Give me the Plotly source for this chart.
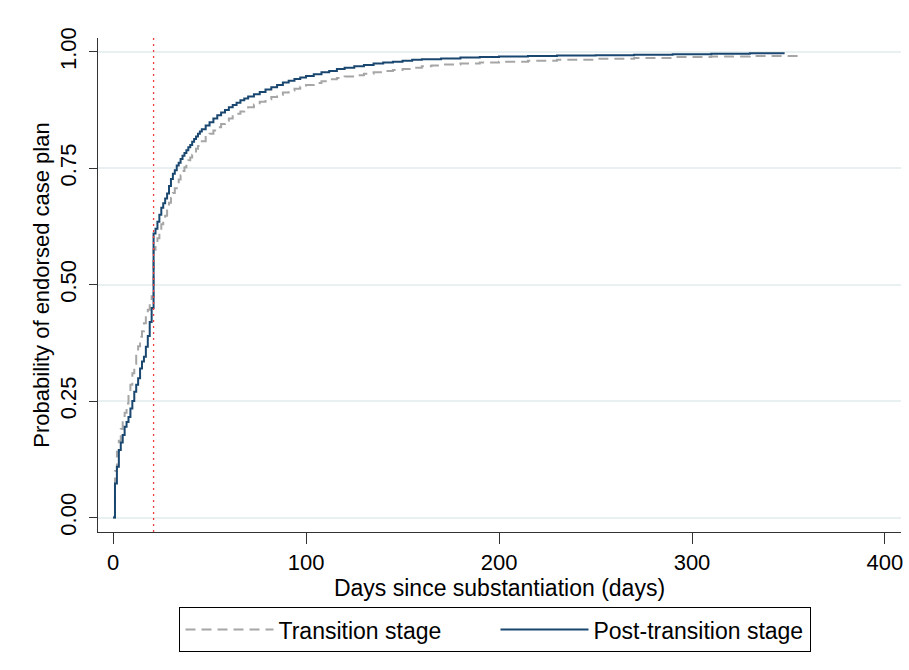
import plotly.graph_objects as go

# Post-transition stage (solid navy)
post_days = [0, 1, 2, 3, 4, 5, 6, 7, 8, 9, 10, 11, 12, 13, 14, 15, 16, 17, 18, 19, 20,
             21, 22, 23, 24, 25, 26, 27, 28, 29, 30, 31, 32, 33, 34, 35, 36, 37, 38, 39,
             40, 41, 42, 43, 44, 45, 46, 48, 50, 52, 54, 56, 58, 60, 62, 64, 66, 68, 70,
             73, 76, 79, 82, 85, 88, 91, 94, 97, 100, 104, 108, 112, 116, 120, 125, 130,
             135, 140, 145, 150, 155, 160, 170, 180, 190, 200, 215, 230, 250, 270, 290,
             310, 330, 348]
post_prob = [0, 0.073, 0.109, 0.145, 0.161, 0.177, 0.195, 0.205, 0.216, 0.234, 0.25,
             0.27, 0.285, 0.299, 0.32, 0.335, 0.345, 0.367, 0.39, 0.42, 0.45,
             0.61, 0.62, 0.635, 0.65, 0.665, 0.675, 0.685, 0.696, 0.712, 0.727, 0.738,
             0.746, 0.756, 0.762, 0.77, 0.777, 0.783, 0.789, 0.795, 0.80, 0.807, 0.813,
             0.818, 0.824, 0.829, 0.834, 0.842, 0.849, 0.857, 0.864, 0.870, 0.875, 0.881,
             0.886, 0.891, 0.896, 0.900, 0.904, 0.909, 0.914, 0.919, 0.924, 0.929, 0.934,
             0.938, 0.942, 0.945, 0.948, 0.952, 0.956, 0.959, 0.963, 0.966, 0.969, 0.972,
             0.975, 0.977, 0.979, 0.981, 0.983, 0.984, 0.986, 0.988, 0.989, 0.990, 0.991,
             0.992, 0.993, 0.994, 0.995, 0.996, 0.997, 0.997]

# Transition stage (dashed gray)
trans_days = [0, 1, 2, 3, 4, 5, 6, 7, 8, 9, 10, 11, 12, 13, 14, 15, 16, 17, 18, 19, 20,
              21, 22, 23, 24, 25, 26, 27, 28, 29, 30, 31, 32, 33, 34, 35, 36, 37, 38, 39,
              40, 41, 42, 43, 44, 45, 46, 48, 50, 52, 54, 56, 58, 60, 62, 64, 66, 68, 70,
              73, 76, 79, 82, 85, 88, 91, 94, 97, 100, 104, 108, 112, 116, 120, 125, 130,
              135, 140, 145, 150, 155, 160, 165, 170, 180, 190, 200, 215, 230, 250, 270,
              290, 310, 330, 355]
trans_prob = [0, 0.10, 0.141, 0.165, 0.19, 0.209, 0.225, 0.245, 0.265, 0.285, 0.31,
              0.33, 0.35, 0.368, 0.388, 0.40, 0.417, 0.43, 0.446, 0.46, 0.475,
              0.575, 0.59, 0.60, 0.614, 0.63, 0.64, 0.648, 0.662, 0.676, 0.686, 0.697,
              0.707, 0.717, 0.726, 0.735, 0.744, 0.752, 0.76, 0.767, 0.773, 0.779, 0.786,
              0.792, 0.798, 0.803, 0.808, 0.817, 0.824, 0.831, 0.838, 0.845, 0.852, 0.857,
              0.862, 0.867, 0.872, 0.877, 0.881, 0.887, 0.893, 0.898, 0.903, 0.908, 0.913,
              0.917, 0.921, 0.925, 0.929, 0.933, 0.937, 0.941, 0.944, 0.947, 0.950, 0.953,
              0.956, 0.959, 0.961, 0.963, 0.966, 0.969, 0.971, 0.973, 0.975, 0.977, 0.979,
              0.981, 0.983, 0.985, 0.987, 0.989, 0.990, 0.991, 0.993]

cutoff_day = 21

x_ticks = [0, 100, 200, 300, 400]
y_ticks = [0, 0.25, 0.5, 0.75, 1.0]
y_labels = ["0.00", "0.25", "0.50", "0.75", "1.00"]

FONT = "Arial, Liberation Sans, sans-serif"

fig = go.Figure()
fig.add_trace(go.Scatter(
    x=trans_days, y=trans_prob, mode="lines", line_shape="hv",
    name="Transition stage",
    line=dict(color="#a6a6a6", width=2, dash="10px,6px"),
))
fig.add_trace(go.Scatter(
    x=post_days, y=post_prob, mode="lines", line_shape="hv",
    name="Post-transition stage",
    line=dict(color="#1a476f", width=2),
))

fig.add_shape(type="line", xref="x", yref="paper", x0=cutoff_day, x1=cutoff_day,
              y0=0, y1=1, layer="above",
              line=dict(color="rgb(240,60,60)", width=1.3, dash="2px,4px"))

fig.update_layout(
    width=909, height=670,
    margin=dict(l=98, r=8, t=38, b=138, autoexpand=False),
    paper_bgcolor="white", plot_bgcolor="white",
    font=dict(family=FONT, size=22, color="black"),
    showlegend=True,
    legend=dict(
        orientation="h", x=0.495, xanchor="center", y=-0.152, yanchor="top",
        bordercolor="black", borderwidth=1, bgcolor="white",
        font=dict(size=23), itemwidth=88, traceorder="normal",
        entrywidth=212, entrywidthmode="pixels",
    ),
    xaxis=dict(
        range=[-7.8, 408.3], tickvals=x_ticks, ticks="outside", ticklen=11,
        tickcolor="#333", showline=True, linecolor="#333", linewidth=1,
        showgrid=False, zeroline=False, automargin=False,
        title=dict(text="Days since substantiation (days)", standoff=0,
                   font=dict(size=23)),
        tickfont=dict(size=22),
    ),
    yaxis=dict(
        range=[-0.0311, 1.0298], tickvals=y_ticks, ticktext=y_labels,
        tickangle=-90, ticks="outside", ticklen=8, tickcolor="#333",
        ticklabelstandoff=4, automargin=False,
        showline=True, linecolor="#333", linewidth=1,
        showgrid=True, gridcolor="#e8f0f2", gridwidth=1.5, zeroline=False,
        title=dict(text="Probability of endorsed case plan", standoff=0,
                   font=dict(size=22)),
        tickfont=dict(size=22),
    ),
)

fig.write_html("out.html")
